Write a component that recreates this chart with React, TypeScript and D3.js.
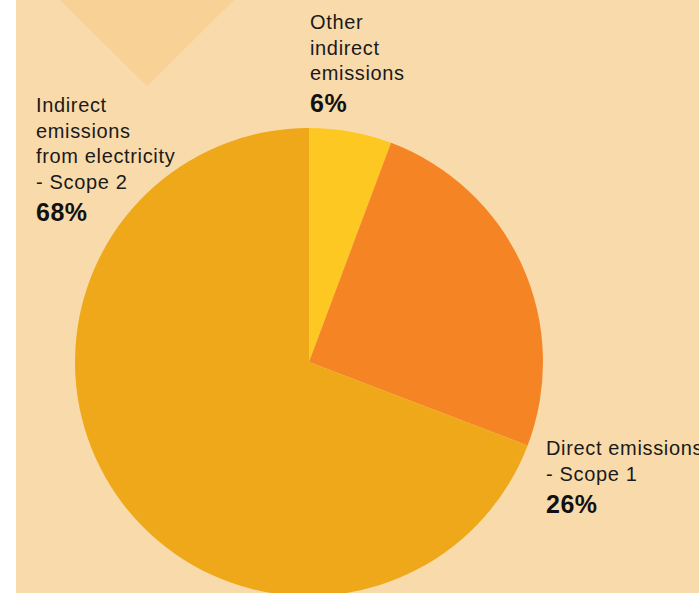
import React from "react";
import * as d3 from "d3";

// slice order: clockwise from 12 o'clock
const categories = ["Other indirect emissions", "Direct emissions - Scope 1", "Indirect emissions from electricity - Scope 2"];
const shares = [5.7, 25.1, 69.2];
const shareLabels = ["6%", "26%", "68%"];
const labelLines = [
  ["Other", "indirect", "emissions"],
  ["Direct emissions", "- Scope 1"],
  ["Indirect", "emissions", "from electricity", "- Scope 2"],
];

const W = 699;
const H = 593;
const colors = ["#FEC822", "#F58424", "#EEA81A"];

// where each label block starts (x, first baseline)
const labelPos: [number, number][] = [
  [310, 29],
  [546, 455],
  [36, 112],
];

const App = () => {
  const cx = 309;
  const cy = 362;
  const r = 234;

  const pie = d3.pie<number>().sort(null).startAngle(0).endAngle(2 * Math.PI);
  const arcs = pie(shares);
  const arc = d3.arc<d3.PieArcDatum<number>>().innerRadius(0).outerRadius(r);

  return (
    <svg
      width={W}
      height={H}
      style={{ position: "fixed", left: 0, top: 0, fontFamily: "'Liberation Sans', Arial, sans-serif" }}
    >
      <rect x={0} y={0} width={W} height={H} fill="#ffffff" />
      <rect x={16} y={0} width={W - 16} height={H} fill="#F9DAAA" />
      {/* decorative notch at top */}
      <path d="M60,0 L234,0 L147,86 Z" fill="#F7D196" />

      <g transform={`translate(${cx},${cy})`}>
        {arcs.map((a, i) => (
          <path key={categories[i]} d={arc(a) || ""} fill={colors[i]} />
        ))}
      </g>

      {labelLines.map((lines, i) => {
        const [x, y0] = labelPos[i];
        return (
          <g key={i}>
            {lines.map((t, j) => (
              <text key={j} x={x} y={y0 + j * 25.5} fontSize={20} letterSpacing={0.65} fill="#1a1a1a">
                {t}
              </text>
            ))}
            <text x={x} y={y0 + (lines.length - 1) * 25.5 + 32} fontSize={25} fontWeight="bold" letterSpacing={0.5} fill="#111">
              {shareLabels[i]}
            </text>
          </g>
        );
      })}
    </svg>
  );
};

export default App;
